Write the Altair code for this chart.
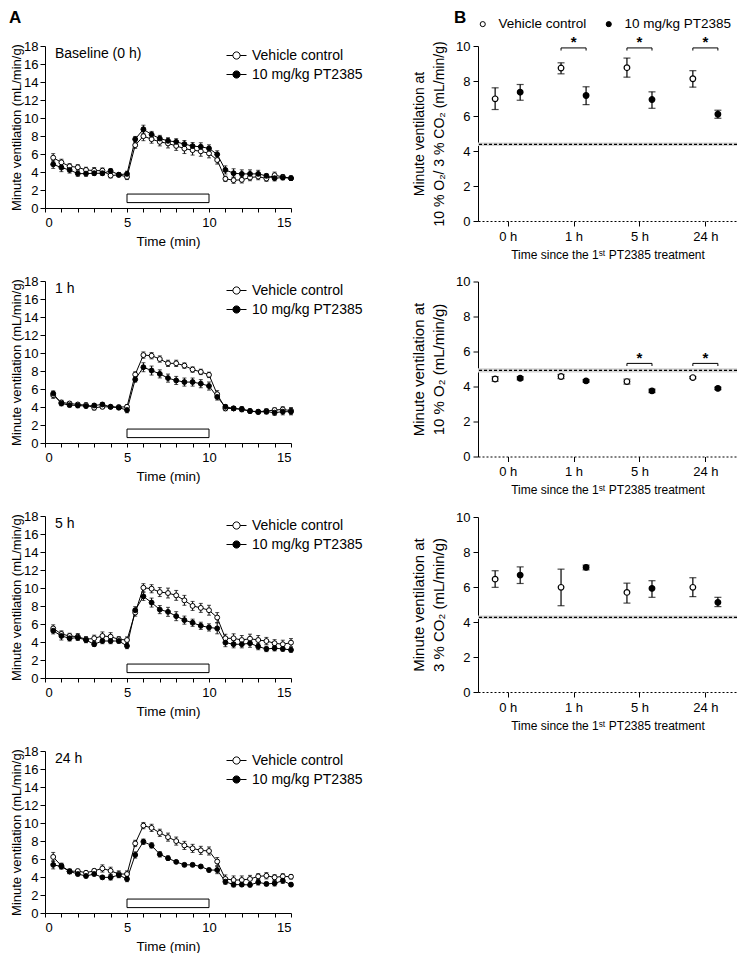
import altair as alt
import pandas as pd

FONT = "Liberation Sans"
SERIES = ["Vehicle control", "10 mg/kg PT2385"]
FILLS = ["white", "black"]

# ---------------- Panel A data ----------------
TIME = [0.5, 1.0, 1.5, 2.0, 2.5, 3.0, 3.5, 4.0, 4.5, 5.0,
        5.5, 6.0, 6.5, 7.0, 7.5, 8.0, 8.5, 9.0, 9.5, 10.0,
        10.5, 11.0, 11.5, 12.0, 12.5, 13.0, 13.5, 14.0, 14.5, 15.0]
STIM_START, STIM_END, STIM_LO, STIM_HI = 5, 10, 0.6, 1.55

base_veh = [5.59, 5.07, 4.63, 4.52, 4.23, 4.15, 4.15, 3.60, 3.68, 3.46,
            6.98, 7.98, 7.65, 7.35, 7.17, 6.90, 6.60, 6.43, 6.30, 6.07,
            5.33, 3.24, 3.09, 3.13, 3.38, 3.49, 3.27, 3.64, 3.46, 3.31]
base_veh_sem = [0.45, 0.35, 0.3, 0.3, 0.3, 0.35, 0.3, 0.25, 0.2, 0.3,
                0.35, 0.5, 0.45, 0.45, 0.5, 0.5, 0.55, 0.55, 0.55, 0.5,
                0.45, 0.3, 0.35, 0.35, 0.35, 0.35, 0.3, 0.35, 0.25, 0.25]
base_pt = [4.85, 4.49, 4.23, 3.82, 3.82, 3.86, 3.86, 4.12, 3.70, 3.79,
           7.65, 8.75, 8.16, 7.72, 7.46, 7.35, 7.10, 6.88, 6.80, 6.62,
           5.96, 4.23, 3.86, 3.79, 3.79, 3.79, 3.57, 3.31, 3.38, 3.31]
base_pt_sem = [0.45, 0.45, 0.35, 0.3, 0.3, 0.25, 0.25, 0.25, 0.2, 0.3,
               0.3, 0.45, 0.35, 0.35, 0.35, 0.35, 0.4, 0.4, 0.45, 0.4,
               0.4, 0.45, 0.5, 0.45, 0.45, 0.4, 0.25, 0.3, 0.25, 0.2]

h1_veh = [5.31, 4.50, 4.39, 4.28, 4.21, 3.92, 4.02, 4.02, 3.99, 4.02,
          7.61, 9.77, 9.70, 9.33, 8.85, 8.85, 8.60, 8.16, 7.90, 7.57,
          5.42, 3.84, 3.84, 3.73, 3.55, 3.48, 3.55, 3.66, 3.73, 3.59]
h1_veh_sem = [0.35, 0.25, 0.2, 0.2, 0.25, 0.25, 0.2, 0.15, 0.2, 0.25,
              0.3, 0.35, 0.35, 0.35, 0.35, 0.35, 0.3, 0.3, 0.3, 0.3,
              0.4, 0.25, 0.2, 0.25, 0.2, 0.2, 0.25, 0.25, 0.3, 0.35]
h1_pt = [5.49, 4.39, 4.21, 4.17, 4.10, 4.17, 4.28, 4.02, 3.92, 3.66,
         7.06, 8.42, 8.05, 7.68, 7.21, 6.95, 6.77, 6.77, 6.59, 6.33,
         5.12, 4.02, 3.84, 3.77, 3.55, 3.44, 3.48, 3.37, 3.48, 3.48]
h1_pt_sem = [0.3, 0.25, 0.2, 0.25, 0.2, 0.2, 0.2, 0.15, 0.2, 0.3,
             0.3, 0.5, 0.5, 0.45, 0.45, 0.45, 0.45, 0.45, 0.45, 0.45,
             0.35, 0.25, 0.2, 0.25, 0.2, 0.2, 0.25, 0.3, 0.35, 0.35]

h5_veh = [5.51, 4.89, 4.67, 4.59, 4.30, 4.41, 4.67, 4.59, 4.30, 4.22,
          7.27, 10.03, 9.92, 9.55, 9.44, 9.18, 8.63, 8.01, 7.79, 7.53,
          6.72, 4.41, 4.41, 4.22, 4.37, 4.22, 4.11, 3.86, 3.75, 3.93]
h5_veh_sem = [0.4, 0.35, 0.3, 0.35, 0.3, 0.35, 0.45, 0.45, 0.3, 0.35,
              0.4, 0.45, 0.45, 0.5, 0.55, 0.55, 0.55, 0.5, 0.5, 0.55,
              0.55, 0.45, 0.5, 0.5, 0.5, 0.5, 0.4, 0.4, 0.45, 0.45]
h5_pt = [5.25, 4.67, 4.41, 4.48, 4.22, 3.75, 4.11, 4.11, 4.11, 3.56,
         7.53, 9.07, 8.38, 7.60, 7.35, 6.87, 6.43, 6.14, 5.80, 5.62,
         5.51, 3.93, 3.75, 3.75, 3.86, 3.49, 3.23, 3.31, 3.23, 3.12]
h5_pt_sem = [0.35, 0.45, 0.3, 0.3, 0.3, 0.25, 0.3, 0.3, 0.25, 0.3,
             0.4, 0.45, 0.5, 0.45, 0.5, 0.5, 0.45, 0.4, 0.4, 0.4,
             0.6, 0.45, 0.4, 0.4, 0.45, 0.35, 0.3, 0.3, 0.25, 0.25]

h24_veh = [6.23, 5.24, 4.62, 4.66, 4.47, 4.69, 4.95, 4.69, 4.33, 4.33,
           7.73, 9.71, 9.46, 8.91, 8.43, 7.99, 7.51, 7.18, 6.96, 6.89,
           5.72, 3.78, 3.67, 3.67, 3.78, 4.07, 4.14, 3.96, 4.07, 4.03]
h24_veh_sem = [0.5, 0.3, 0.25, 0.2, 0.2, 0.2, 0.4, 0.4, 0.35, 0.35,
               0.35, 0.35, 0.4, 0.4, 0.45, 0.45, 0.45, 0.45, 0.45, 0.45,
               0.45, 0.45, 0.45, 0.45, 0.4, 0.3, 0.35, 0.3, 0.3, 0.25]
h24_pt = [5.35, 5.17, 4.62, 4.33, 4.11, 4.33, 3.96, 3.96, 4.22, 3.78,
          6.45, 7.92, 7.51, 6.52, 6.09, 5.68, 5.35, 5.35, 5.17, 4.77,
          4.77, 3.48, 3.15, 3.15, 3.12, 3.41, 3.23, 3.30, 3.59, 3.15]
h24_pt_sem = [0.45, 0.3, 0.25, 0.2, 0.2, 0.2, 0.2, 0.3, 0.3, 0.3,
              0.35, 0.3, 0.3, 0.3, 0.25, 0.15, 0.2, 0.2, 0.15, 0.2,
              0.4, 0.3, 0.25, 0.2, 0.2, 0.3, 0.2, 0.3, 0.3, 0.2]

# ---------------- Panel B data ----------------
B_CATS = ["0 h", "1 h", "5 h", "24 h"]
B_X_DOMAIN = [-0.45, 3.48]
OFFSET = {"Vehicle control": -0.19, "10 mg/kg PT2385": 0.19}

hc_veh = [6.98, 8.74, 8.76, 8.13]
hc_veh_lo = [6.37, 8.41, 8.22, 7.65]
hc_veh_hi = [7.61, 9.04, 9.31, 8.59]
hc_pt = [7.36, 7.17, 6.94, 6.10]
hc_pt_lo = [6.90, 6.65, 6.44, 5.87]
hc_pt_hi = [7.80, 7.67, 7.38, 6.33]
hc_base, hc_base_lo, hc_base_hi = 4.38, 4.28, 4.48
hc_sig = [1, 2, 3]
hc_bracket_y = 9.89

hx_veh = [4.43, 4.57, 4.28, 4.51]
hx_veh_lo = [4.30, 4.45, 4.14, 4.45]
hx_veh_hi = [4.56, 4.69, 4.42, 4.57]
hx_pt = [4.47, 4.32, 3.75, 3.89]
hx_pt_lo = [4.38, 4.25, 3.65, 3.82]
hx_pt_hi = [4.56, 4.39, 3.85, 3.96]
hx_base, hx_base_lo, hx_base_hi = 4.92, 4.80, 5.04
hx_sig = [2, 3]
hx_bracket_y = 5.32

hp_veh = [6.45, 5.98, 5.69, 5.98]
hp_veh_lo = [5.98, 4.93, 5.08, 5.45]
hp_veh_hi = [6.93, 7.02, 6.22, 6.53]
hp_pt = [6.68, 7.12, 5.92, 5.12]
hp_pt_lo = [6.20, 6.98, 5.41, 4.88]
hp_pt_hi = [7.15, 7.25, 6.36, 5.41]
hp_base, hp_base_lo, hp_base_hi = 4.27, 4.17, 4.37
hp_sig = []
hp_bracket_y = 9.9

# ---------------- helpers ----------------
LEG_PATH = ("M-1,0L-0.36,0M0.36,0L1,0"
            "M-0.36,0A0.36,0.36,0,1,1,0.36,0A0.36,0.36,0,1,1,-0.36,0Z")

A_W, A_H = 246, 162
B_W, B_H = 259, 175


def fill_enc(legend):
    return alt.Fill("g:N", scale=alt.Scale(domain=SERIES, range=FILLS), legend=legend)


def panel_a(label, veh, veh_sem, pt, pt_sem, letter=None):
    rows = []
    for g, means, sems in ((SERIES[0], veh, veh_sem), (SERIES[1], pt, pt_sem)):
        for t, m, s in zip(TIME, means, sems):
            rows.append({"t": t, "v": m, "lo": m - s, "hi": m + s, "g": g})
    df = pd.DataFrame(rows)

    xax = alt.Axis(values=list(range(0, 16)), title="Time (min)",
                   labelExpr="datum.value % 5 == 0 ? datum.label : ''",
                   tickSize=4, labelPadding=4, titlePadding=5,
                   labelFontSize=13, titleFontSize=13.5)
    yax = alt.Axis(values=list(range(0, 19, 2)), title="Minute ventilation (mL/min/g)",
                   tickSize=5, labelPadding=2, titlePadding=0,
                   labelFontSize=13, titleFontSize=13)

    def X(f):
        return alt.X(f, scale=alt.Scale(domain=[0, 15], nice=False, zero=False), axis=xax)

    def Y(f):
        return alt.Y(f, scale=alt.Scale(domain=[0, 18], nice=False), axis=yax)

    stim_df = pd.DataFrame({"s": [STIM_START], "e": [STIM_END],
                            "lo": [STIM_LO], "hi": [STIM_HI]})
    stim = alt.Chart(stim_df).mark_rect(fill="white", stroke="black", strokeWidth=1).encode(
        x=X("s:Q"), x2="e:Q", y=Y("lo:Q"), y2="hi:Q")

    base = alt.Chart(df)
    lines = base.mark_line(color="black", strokeWidth=1).encode(
        x=X("t:Q"), y=Y("v:Q"), detail="g:N")
    errs = base.mark_errorbar(color="black", thickness=1, ticks={"size": 4}).encode(
        x=X("t:Q"), y=Y("lo:Q"), y2="hi:Q", detail="g:N")
    legend = alt.Legend(title=None, orient="none", legendX=181, legendY=-1,
                        symbolType=LEG_PATH, symbolSize=400, symbolStrokeColor="black",
                        symbolStrokeWidth=1, labelFontSize=14, labelFont=FONT,
                        labelColor="black", rowPadding=1, labelOffset=5, padding=0)
    pts = base.mark_point(filled=True, shape="circle", size=24, stroke="black",
                          strokeWidth=1, opacity=1).encode(
        x=X("t:Q"), y=Y("v:Q"), fill=fill_enc(legend))

    txt = alt.Chart(pd.DataFrame({"txt": [label]})).mark_text(
        align="left", baseline="middle", fontSize=14, font=FONT, color="black").encode(
        text="txt:N", x=alt.value(10), y=alt.value(8))
    layers = [stim, lines, errs, pts, txt]
    if letter:
        layers.append(alt.Chart(pd.DataFrame({"txt": [letter]})).mark_text(
            align="left", baseline="middle", fontSize=17, fontWeight="bold",
            font=FONT, color="black").encode(text="txt:N", x=alt.value(-36), y=alt.value(-28)))
    return alt.layer(*layers).properties(width=A_W, height=A_H)


def panel_b(ytitle, tsize, veh, veh_lo, veh_hi, pt, pt_lo, pt_hi,
            base_v, base_lo, base_hi, sig, bracket_y, show_legend=False, letter=None):
    rows = []
    for g, m_, lo_, hi_ in ((SERIES[0], veh, veh_lo, veh_hi), (SERIES[1], pt, pt_lo, pt_hi)):
        for i, (m, lo, hi) in enumerate(zip(m_, lo_, hi_)):
            rows.append({"x": i + OFFSET[g], "v": m, "lo": lo, "hi": hi, "g": g})
    df = pd.DataFrame(rows)

    label_expr = "[" + ",".join("'%s'" % c for c in B_CATS) + "][datum.value]"
    xax = alt.Axis(values=list(range(len(B_CATS))), labelExpr=label_expr,
                   title="Time since the 1ˢᵗ PT2385 treatment",
                   tickSize=5, labelPadding=4, titlePadding=6,
                   labelFontSize=13, titleFontSize=12, domainDash=[2, 2])
    yax = alt.Axis(values=list(range(0, 11, 2)), title=ytitle,
                   tickSize=5, labelPadding=3, titlePadding=9,
                   labelFontSize=13, titleFontSize=tsize, titleLineHeight=20)

    def X(f):
        return alt.X(f, scale=alt.Scale(domain=B_X_DOMAIN, nice=False, zero=False), axis=xax)

    def Y(f):
        return alt.Y(f, scale=alt.Scale(domain=[0, 10], nice=False), axis=yax)

    band_df = pd.DataFrame({"x0": [B_X_DOMAIN[0]], "x1": [B_X_DOMAIN[1]],
                            "lo": [base_lo], "hi": [base_hi], "m": [base_v]})
    band = alt.Chart(band_df).mark_rect(fill="#d4d4d4").encode(
        x=X("x0:Q"), x2="x1:Q", y=Y("lo:Q"), y2="hi:Q")
    bline = alt.Chart(band_df).mark_rule(color="black", strokeWidth=1.3,
                                         strokeDash=[3, 2]).encode(y=Y("m:Q"))

    base = alt.Chart(df)
    errs = base.mark_errorbar(color="black", thickness=1.2, ticks={"size": 7}).encode(
        x=X("x:Q"), y=Y("lo:Q"), y2="hi:Q")
    if show_legend:
        legend = alt.Legend(title=None, orient="none", direction="horizontal",
                            legendX=-2, legendY=-29, symbolType="circle", symbolSize=26,
                            symbolStrokeColor="black", symbolStrokeWidth=1,
                            labelFontSize=13.5, labelFont=FONT, labelColor="black",
                            labelOffset=9, columnPadding=15, padding=0)
    else:
        legend = None
    pts = base.mark_point(filled=True, shape="circle", size=32, stroke="black",
                          strokeWidth=1.2, opacity=1).encode(
        x=X("x:Q"), y=Y("v:Q"), fill=fill_enc(legend))

    layers = [band, bline, errs, pts]

    if sig:
        br = pd.DataFrame({"xl": [k + OFFSET[SERIES[0]] for k in sig],
                           "xr": [k + OFFSET[SERIES[1]] for k in sig],
                           "y": [bracket_y] * len(sig),
                           "yd": [bracket_y - 0.15] * len(sig),
                           "ys": [bracket_y + 0.33] * len(sig),
                           "xm": sig, "s": ["*"] * len(sig)})
        bc = alt.Chart(br)
        layers += [
            bc.mark_rule(color="black", strokeWidth=1).encode(x=X("xl:Q"), x2="xr:Q", y=Y("y:Q")),
            bc.mark_rule(color="black", strokeWidth=1).encode(x=X("xl:Q"), y=Y("yd:Q"), y2="y:Q"),
            bc.mark_rule(color="black", strokeWidth=1).encode(x=X("xr:Q"), y=Y("yd:Q"), y2="y:Q"),
            bc.mark_text(fontSize=15, fontWeight="bold", font=FONT, color="black",
                         baseline="middle").encode(x=X("xm:Q"), y=Y("ys:Q"), text="s:N"),
        ]
    if letter:
        layers.append(alt.Chart(pd.DataFrame({"txt": [letter]})).mark_text(
            align="left", baseline="middle", fontSize=17, fontWeight="bold",
            font=FONT, color="black").encode(text="txt:N", x=alt.value(-24), y=alt.value(-28)))
    return alt.layer(*layers).properties(width=B_W, height=B_H)


left = alt.vconcat(
    panel_a("Baseline (0 h)", base_veh, base_veh_sem, base_pt, base_pt_sem, letter="A"),
    panel_a("1 h", h1_veh, h1_veh_sem, h1_pt, h1_pt_sem),
    panel_a("5 h", h5_veh, h5_veh_sem, h5_pt, h5_pt_sem),
    panel_a("24 h", h24_veh, h24_veh_sem, h24_pt, h24_pt_sem),
    spacing=26,
).resolve_scale(fill="independent").resolve_legend(fill="independent")

right = alt.vconcat(
    panel_b(["Minute ventilation at", "10 % O₂/ 3 % CO₂ (mL/min/g)"], 14,
            hc_veh, hc_veh_lo, hc_veh_hi, hc_pt, hc_pt_lo, hc_pt_hi,
            hc_base, hc_base_lo, hc_base_hi, hc_sig, hc_bracket_y,
            show_legend=True, letter="B"),
    panel_b(["Minute ventilation at", "10 % O₂ (mL/min/g)"], 15,
            hx_veh, hx_veh_lo, hx_veh_hi, hx_pt, hx_pt_lo, hx_pt_hi,
            hx_base, hx_base_lo, hx_base_hi, hx_sig, hx_bracket_y),
    panel_b(["Minute ventilation at", "3 % CO₂ (mL/min/g)"], 15,
            hp_veh, hp_veh_lo, hp_veh_hi, hp_pt, hp_pt_lo, hp_pt_hi,
            hp_base, hp_base_lo, hp_base_hi, hp_sig, hp_bracket_y),
    spacing=13.5,
).resolve_scale(fill="independent").resolve_legend(fill="independent")

chart = alt.hconcat(left, right, spacing=47).resolve_scale(
    fill="independent").resolve_legend(fill="independent").properties(
    padding={"left": 0, "top": 0, "right": 0, "bottom": 0}
).configure_axis(
    labelFont=FONT, titleFont=FONT, labelColor="black", titleColor="black",
    domainColor="black", tickColor="black", grid=False, titleFontWeight="normal",
    domainWidth=1, tickWidth=1
).configure_view(stroke="transparent")

chart.save("out.html", embed_options={"renderer": "svg", "actions": False})
